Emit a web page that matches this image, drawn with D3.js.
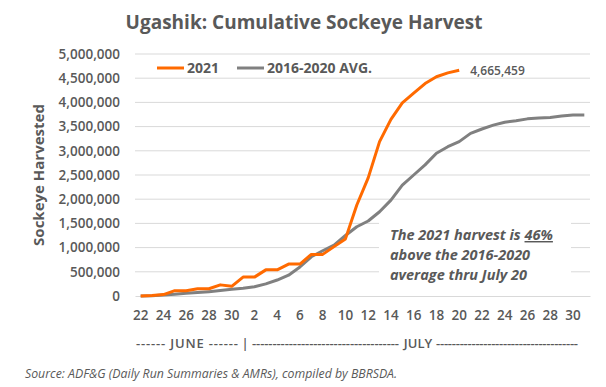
<!DOCTYPE html>
<html>
<head>
<meta charset="utf-8">
<script src="https://cdn.jsdelivr.net/npm/d3@7"></script>
<style>
  body { margin: 0; background: #fff; }
  svg { display: block; font-family: "Open Sans", sans-serif; }
</style>
</head>
<body>
<svg id="chart" width="606" height="387"></svg>
<script>
const categories = ["Jun 22","Jun 23","Jun 24","Jun 25","Jun 26","Jun 27","Jun 28","Jun 29","Jun 30",
  "Jul 1","Jul 2","Jul 3","Jul 4","Jul 5","Jul 6","Jul 7","Jul 8","Jul 9","Jul 10","Jul 11","Jul 12",
  "Jul 13","Jul 14","Jul 15","Jul 16","Jul 17","Jul 18","Jul 19","Jul 20","Jul 21","Jul 22","Jul 23",
  "Jul 24","Jul 25","Jul 26","Jul 27","Jul 28","Jul 29","Jul 30","Jul 31"];
const tickLabels = ["22","24","26","28","30","2","4","6","8","10","12","14","16","18","20","22","24","26","28","30"];
const series2021 = [0,10000,30000,110000,110000,150000,150000,230000,200000,390000,390000,540000,540000,
  660000,660000,860000,860000,1020000,1180000,1880000,2440000,3190000,3650000,3990000,4190000,4390000,
  4530000,4610000,4665459];
const seriesAvg = [0,5000,20000,35000,55000,70000,90000,115000,140000,160000,190000,250000,330000,430000,
  600000,810000,935000,1050000,1250000,1430000,1550000,1740000,1980000,2290000,2500000,2710000,2950000,
  3085000,3190000,3360000,3450000,3530000,3590000,3620000,3660000,3680000,3690000,3720000,3740000,3740000];
const yTicks = [0,500000,1000000,1500000,2000000,2500000,3000000,3500000,4000000,4500000,5000000];

const svg = d3.select("#chart");
const textColor = "#595959";
const L = 135, R = 590, T = 54, B = 296;

const x = d3.scaleBand().domain(d3.range(categories.length)).range([L, R]);
const cx = i => x(i) + x.bandwidth() / 2;
const y = d3.scaleLinear().domain([0, 5000000]).range([B, T]);

// gridlines
svg.append("g").selectAll("line").data(yTicks.slice(1)).join("line")
  .attr("x1", L).attr("x2", R)
  .attr("y1", d => y(d)).attr("y2", d => y(d))
  .attr("stroke", "#d9d9d9").attr("stroke-width", 1);

// y axis labels
const yAxis = d3.axisLeft(y).tickValues(yTicks).tickFormat(d3.format(",")).tickSize(0).tickPadding(15);
const gy = svg.append("g").attr("transform", `translate(${L},0)`).call(yAxis);
gy.select(".domain").remove();
gy.selectAll("text").attr("fill", textColor).attr("font-size", 13.5).attr("font-weight", 600)
  .attr("font-family", "Open Sans");

// x axis
const evenIdx = d3.range(0, categories.length, 2);
const xAxis = d3.axisBottom(x).tickValues(evenIdx).tickFormat((d, i) => tickLabels[i]).tickSize(0).tickPadding(14);
const gx = svg.append("g").attr("transform", `translate(0,${B})`).call(xAxis);
gx.select(".domain").attr("stroke", "#d9d9d9");
gx.selectAll("text").attr("fill", textColor).attr("font-size", 13.5).attr("font-weight", 600)
  .attr("font-family", "Open Sans");

// annotation white box (covers gridlines)
svg.append("rect").attr("x", 379).attr("y", 217).attr("width", 192).attr("height", 70).attr("fill", "#fff");

// lines
const line = d3.line().x((d, i) => cx(i)).y(d => y(d));
svg.append("path").datum(seriesAvg).attr("d", line).attr("fill", "none")
  .attr("stroke", "#808080").attr("stroke-width", 3).attr("stroke-linejoin", "round");
svg.append("path").datum(series2021).attr("d", line).attr("fill", "none")
  .attr("stroke", "#ff6a00").attr("stroke-width", 3).attr("stroke-linejoin", "round");

// end label
const lastI = series2021.length - 1;
svg.append("text").attr("x", cx(lastI) + 11).attr("y", y(series2021[lastI]) + 5)
  .attr("fill", textColor).attr("font-size", 12).attr("font-weight", 600)
  .text(d3.format(",")(series2021[lastI]));

// title
svg.append("text").attr("x", 304).attr("y", 29).attr("text-anchor", "middle")
  .attr("fill", textColor).attr("font-size", 19).attr("font-weight", 700)
  .text("Ugashik: Cumulative Sockeye Harvest");

// y axis title
svg.append("text").attr("transform", `translate(44,${(T + B) / 2}) rotate(-90)`)
  .attr("text-anchor", "middle").attr("fill", textColor).attr("font-size", 15).attr("font-weight", 700)
  .text("Sockeye Harvested");

// legend
const legend = [{name: "2021", color: "#ff6a00", x: 157}, {name: "2016-2020 AVG.", color: "#808080", x: 237}];
const lg = svg.append("g").selectAll("g").data(legend).join("g");
lg.append("line").attr("x1", d => d.x).attr("x2", d => d.x + 27).attr("y1", 68).attr("y2", 68)
  .attr("stroke", d => d.color).attr("stroke-width", 3);
lg.append("text").attr("x", d => d.x + 30).attr("y", 73).attr("fill", textColor)
  .attr("font-size", 14).attr("font-weight", 700).text(d => d.name);

// month labels
const monthRow = [
  {t: "------ JUNE ------", x: 136, len: 102, anchor: "start"},
  {t: "|", x: 245, len: null, anchor: "middle"},
  {t: "------------------------------------", x: 252, len: 147, anchor: "start"},
  {t: "JULY", x: 418, len: null, anchor: "middle"},
  {t: "------------------------------------", x: 436, len: 142, anchor: "start"}
];
svg.append("g").selectAll("text").data(monthRow).join("text")
  .attr("x", d => d.x).attr("y", 348).attr("text-anchor", d => d.anchor)
  .attr("fill", textColor).attr("font-size", 13).attr("font-weight", 600)
  .each(function(d) {
    if (d.len) d3.select(this).attr("textLength", d.len).attr("lengthAdjust", "spacing");
  })
  .text(d => d.t);

// annotation
const ann = svg.append("text").attr("fill", textColor).attr("font-size", 14.5)
  .attr("font-weight", 700).attr("font-style", "italic");
const ann1 = ann.append("tspan").attr("x", 390).attr("y", 240);
ann1.append("tspan").text("The 2021 harvest is ");
ann1.append("tspan").attr("text-decoration", "underline").style("text-decoration", "underline").text("46%");
ann.append("tspan").attr("x", 390).attr("y", 260).text("above the 2016-2020");
ann.append("tspan").attr("x", 390).attr("y", 280).text("average thru July 20");

// source
svg.append("text").attr("x", 25).attr("y", 378).attr("fill", textColor)
  .attr("font-size", 12.3).attr("font-style", "italic")
  .text("Source: ADF&G (Daily Run Summaries & AMRs), compiled by BBRSDA.");
</script>
</body>
</html>
